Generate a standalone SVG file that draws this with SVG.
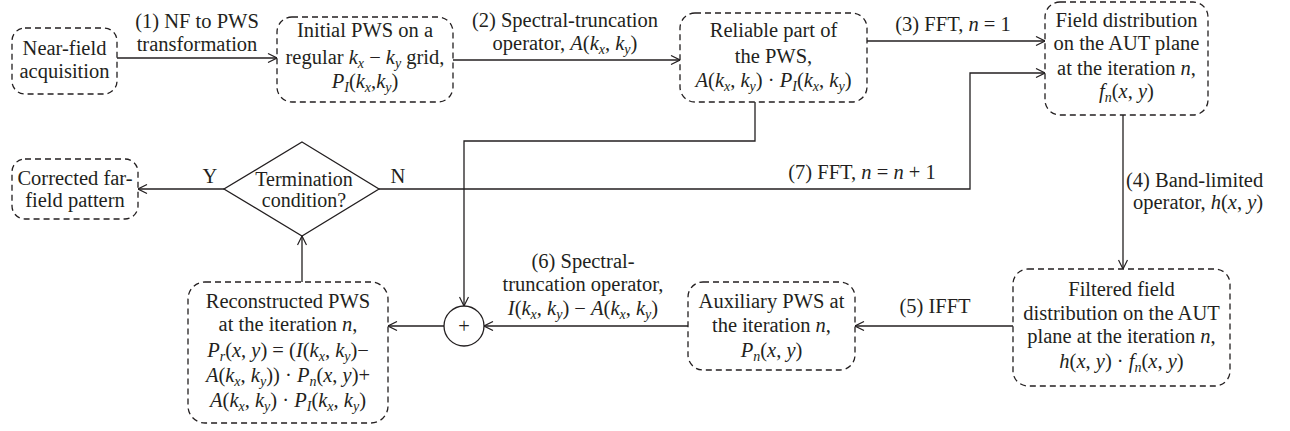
<svg xmlns="http://www.w3.org/2000/svg" width="1290" height="431" viewBox="0 0 1290 431">
<style>
text{font-family:'Liberation Serif','Tinos','DejaVu Serif',serif;font-size:20.5px;fill:#231f20;text-anchor:middle}
text.l{text-anchor:start}
.i{font-style:italic}
.s{font-style:italic;font-size:14px}
.b{fill:none;stroke:#231f20;stroke-width:1.3;stroke-dasharray:6,4}
.c{fill:none;stroke:#231f20;stroke-width:1.3}
</style>
<defs>
<marker id="arr" viewBox="0 0 10 10" refX="10" refY="5" markerWidth="10" markerHeight="10" markerUnits="userSpaceOnUse" orient="auto">
<path d="M1,0.5 L10,5 L1,9.5" fill="none" stroke="#231f20" stroke-width="1.2"/>
</marker>
</defs>
<rect width="1290" height="431" fill="#fff"/>

<g id="connectors">
<path class="c" d="M117,58 H277" marker-end="url(#arr)"/>
<path class="c" d="M453,60 H680" marker-end="url(#arr)"/>
<path class="c" d="M867,41 H1045" marker-end="url(#arr)"/>
<path class="c" d="M1123,115 V269" marker-end="url(#arr)"/>
<path class="c" d="M1013,326 H855" marker-end="url(#arr)"/>
<path class="c" d="M688,326 H484" marker-end="url(#arr)"/>
<path class="c" d="M444,326 H388" marker-end="url(#arr)"/>
<path class="c" d="M302,282 V236" marker-end="url(#arr)"/>
<path class="c" d="M224,189 H138" marker-end="url(#arr)"/>
<path class="c" d="M379,189 H970 V73 H1045" marker-end="url(#arr)"/>
<path class="c" d="M755,102 V141 H464 V306" marker-end="url(#arr)"/>
<text x="197" y="28">(1) NF to PWS</text>
<text x="197" y="51">transformation</text>
<text x="565" y="27">(2) Spectral-truncation</text>
<text x="565" y="50">operator, <tspan class="i">A</tspan>(<tspan class="i">k</tspan><tspan class="s" baseline-shift="-4">x</tspan>, <tspan class="i">k</tspan><tspan class="s" baseline-shift="-4">y</tspan>)</text>
<text x="953" y="31">(3) FFT, <tspan class="i">n</tspan> = 1</text>
<text class="l" x="1126" y="187">(4) Band-limited</text>
<text class="l" x="1133" y="209">operator, <tspan class="i">h</tspan>(<tspan class="i">x</tspan>, <tspan class="i">y</tspan>)</text>
<text x="935" y="313">(5) IFFT</text>
<text x="583" y="268">(6) Spectral-</text>
<text x="583" y="291">truncation operator,</text>
<text x="583" y="315"><tspan class="i">I</tspan>(<tspan class="i">k</tspan><tspan class="s" baseline-shift="-4">x</tspan>, <tspan class="i">k</tspan><tspan class="s" baseline-shift="-4">y</tspan>) − <tspan class="i">A</tspan>(<tspan class="i">k</tspan><tspan class="s" baseline-shift="-4">x</tspan>, <tspan class="i">k</tspan><tspan class="s" baseline-shift="-4">y</tspan>)</text>
<text x="862" y="179">(7) FFT, <tspan class="i">n</tspan> = <tspan class="i">n</tspan> + 1</text>
<text x="210" y="183">Y</text>
<text x="398" y="183">N</text>
</g>

<g id="n1">
<rect class="b" x="12" y="28" width="105" height="66" rx="13"/>
<text x="64.5" y="55">Near-field</text>
<text x="64.5" y="78">acquisition</text>
</g>

<g id="n2">
<rect class="b" x="277" y="17" width="176" height="85" rx="15"/>
<text x="365" y="37">Initial PWS on a</text>
<text x="365" y="64">regular <tspan class="i">k</tspan><tspan class="s" baseline-shift="-4">x</tspan> − <tspan class="i">k</tspan><tspan class="s" baseline-shift="-4">y</tspan> grid,</text>
<text x="365" y="88"><tspan class="i">P</tspan><tspan class="s" baseline-shift="-4">I</tspan>(<tspan class="i">k</tspan><tspan class="s" baseline-shift="-4">x</tspan>,<tspan class="i">k</tspan><tspan class="s" baseline-shift="-4">y</tspan>)</text>
</g>

<g id="n3">
<rect class="b" x="680" y="13" width="187" height="89" rx="15"/>
<text x="773.5" y="37">Reliable part of</text>
<text x="773.5" y="63">the PWS,</text>
<text x="773.5" y="87"><tspan class="i">A</tspan>(<tspan class="i">k</tspan><tspan class="s" baseline-shift="-4">x</tspan>, <tspan class="i">k</tspan><tspan class="s" baseline-shift="-4">y</tspan>) · <tspan class="i">P</tspan><tspan class="s" baseline-shift="-4">I</tspan>(<tspan class="i">k</tspan><tspan class="s" baseline-shift="-4">x</tspan>, <tspan class="i">k</tspan><tspan class="s" baseline-shift="-4">y</tspan>)</text>
</g>

<g id="n4">
<rect class="b" x="1045" y="2" width="163" height="113" rx="15"/>
<text x="1126.5" y="27">Field distribution</text>
<text x="1126.5" y="50">on the AUT plane</text>
<text x="1126.5" y="75">at the iteration <tspan class="i">n</tspan>,</text>
<text x="1126.5" y="98"><tspan class="i">f</tspan><tspan class="s" baseline-shift="-4">n</tspan>(<tspan class="i">x</tspan>, <tspan class="i">y</tspan>)</text>
</g>

<g id="n5">
<rect class="b" x="1013" y="269" width="217" height="117" rx="15"/>
<text x="1121.5" y="296">Filtered field</text>
<text x="1121.5" y="320">distribution on the AUT</text>
<text x="1121.5" y="343">plane at the iteration <tspan class="i">n</tspan>,</text>
<text x="1121.5" y="368"><tspan class="i">h</tspan>(<tspan class="i">x</tspan>, <tspan class="i">y</tspan>) · <tspan class="i">f</tspan><tspan class="s" baseline-shift="-4">n</tspan>(<tspan class="i">x</tspan>, <tspan class="i">y</tspan>)</text>
</g>

<g id="n6">
<rect class="b" x="688" y="282" width="167" height="88" rx="15"/>
<text x="771.5" y="308">Auxiliary PWS at</text>
<text x="771.5" y="332">the iteration <tspan class="i">n</tspan>,</text>
<text x="771.5" y="357"><tspan class="i">P</tspan><tspan class="s" baseline-shift="-4">n</tspan>(<tspan class="i">x</tspan>, <tspan class="i">y</tspan>)</text>
</g>

<g id="sum">
<circle class="c" cx="464" cy="326" r="20"/>
<text x="464" y="333">+</text>
</g>

<g id="n7">
<rect class="b" x="188" y="282" width="200" height="141" rx="17"/>
<text x="288" y="308">Reconstructed PWS</text>
<text x="288" y="331">at the iteration <tspan class="i">n</tspan>,</text>
<text x="288" y="357"><tspan class="i">P</tspan><tspan class="s" baseline-shift="-4">r</tspan>(<tspan class="i">x</tspan>, <tspan class="i">y</tspan>) = (<tspan class="i">I</tspan>(<tspan class="i">k</tspan><tspan class="s" baseline-shift="-4">x</tspan>, <tspan class="i">k</tspan><tspan class="s" baseline-shift="-4">y</tspan>)−</text>
<text x="288" y="382"><tspan class="i">A</tspan>(<tspan class="i">k</tspan><tspan class="s" baseline-shift="-4">x</tspan>, <tspan class="i">k</tspan><tspan class="s" baseline-shift="-4">y</tspan>)) · <tspan class="i">P</tspan><tspan class="s" baseline-shift="-4">n</tspan>(<tspan class="i">x</tspan>, <tspan class="i">y</tspan>)+</text>
<text x="288" y="407"><tspan class="i">A</tspan>(<tspan class="i">k</tspan><tspan class="s" baseline-shift="-4">x</tspan>, <tspan class="i">k</tspan><tspan class="s" baseline-shift="-4">y</tspan>) · <tspan class="i">P</tspan><tspan class="s" baseline-shift="-4">I</tspan>(<tspan class="i">k</tspan><tspan class="s" baseline-shift="-4">x</tspan>, <tspan class="i">k</tspan><tspan class="s" baseline-shift="-4">y</tspan>)</text>
</g>

<g id="n8">
<rect class="b" x="12" y="159" width="126" height="60" rx="13"/>
<text x="75" y="185">Corrected far-</text>
<text x="75" y="207">field pattern</text>
</g>

<g id="decision">
<polygon class="c" points="302,142 379,189 302,236 224,189"/>
<text x="304" y="186" style="font-size:20px">Termination</text>
<text x="304" y="207" style="font-size:20px">condition?</text>
</g>
</svg>
